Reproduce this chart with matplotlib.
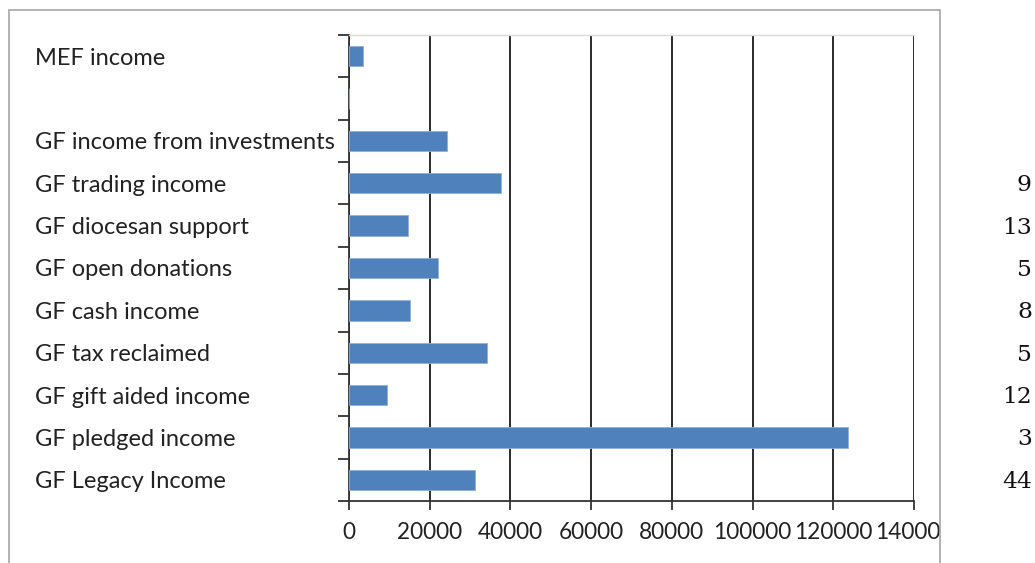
import matplotlib
matplotlib.use("Agg")
import matplotlib.pyplot as plt
from matplotlib.patches import Rectangle
from matplotlib.transforms import blended_transform_factory, ScaledTranslation

categories = ["MEF income", "", "GF income from investments", "GF trading income",
              "GF diocesan support", "GF open donations", "GF cash income",
              "GF tax reclaimed", "GF gift aided income", "GF pledged income",
              "GF Legacy Income"]
values = [3500, 0, 24300, 37700, 14600, 22000, 15000, 34200, 9500, 123700, 31100]
xticks = [0, 20000, 40000, 60000, 80000, 100000, 120000, 140000]
side_numbers = ["9", "13", "5", "8", "5", "12", "3", "44"]
side_rows = categories[3:]

W, H = 1035, 563
fig = plt.figure(figsize=(W / 100, H / 100), dpi=100)
ax = fig.add_axes([349 / W, 1 - 501 / H, (914 - 349) / W, (501 - 35) / H])

n = len(categories)
ypos = [n - 1 - i for i in range(n)]
ax.barh(ypos, values, height=0.48, color="#4F81BD", edgecolor="#8FB0DA", linewidth=0.6, zorder=3)

ax.set_xlim(0, 140000)
ax.set_ylim(-0.5, n - 0.5)
ax.set_xticks(xticks)
ax.set_xticklabels([str(v) for v in xticks], fontsize=16.3, fontfamily="Lato", color="#222222")
ax.tick_params(axis="x", direction="out", length=6.5, width=1.3, color="#333333", pad=8.5)
ax.set_yticks([i - 0.5 for i in range(n + 1)])
ax.set_yticklabels([])
ax.tick_params(axis="y", direction="out", length=8, width=1.3, color="#333333")
ax.grid(axis="x", color="#1a1a1a", linewidth=1.3, zorder=1)
ax.set_axisbelow(True)
for s in ["left", "bottom"]:
    ax.spines[s].set_color("#333333")
    ax.spines[s].set_linewidth(1.3)
ax.spines["top"].set_color("#d9d9d9")
ax.spines["top"].set_linewidth(1.0)
ax.spines["right"].set_visible(False)

shift = ScaledTranslation(0, -2 / 100, fig.dpi_scale_trans)
tr = blended_transform_factory(fig.transFigure, ax.transData) + shift
for y, lab in zip(ypos, categories):
    ax.text(35 / W, y, lab, transform=tr, ha="left", va="center",
            fontsize=17, fontfamily="Lato", color="#222222", clip_on=False)

for lab, num in zip(side_rows, side_numbers):
    y = ypos[categories.index(lab)]
    ax.text(1032 / W, y, num, transform=tr, ha="right", va="center",
            fontsize=16.8, fontfamily="DejaVu Serif", color="#111111", clip_on=False)

# white cover to the right of the chart box, then the chart box border
fig.patches.append(Rectangle((940.5 / W, 0), (W - 940.5) / W, 1 - 500 / H,
                             transform=fig.transFigure, facecolor="white",
                             edgecolor="none", zorder=10))
fig.patches.append(Rectangle((9 / W, -0.05), (940 - 9) / W, 1.05 - 10 / H,
                             transform=fig.transFigure, facecolor="none",
                             edgecolor="#a6a6a6", linewidth=1.2, zorder=11))

fig.savefig("out.png", dpi=100)
